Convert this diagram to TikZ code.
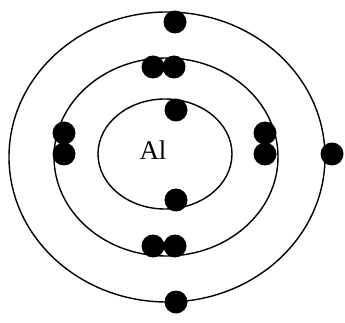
\documentclass[tikz,border=0pt]{standalone}
\usepackage{fontspec}
\setmainfont{Liberation Serif}
\usepackage{tikz}

\begin{document}
\begin{tikzpicture}[x=1pt,y=-1pt,
  orb/.style={draw,line width=1.4pt},
  ele/.style={circle,fill=black,inner sep=0pt,minimum size=23pt}]
  \useasboundingbox (0,0) rectangle (345,323);
  \draw[orb] (167,157) ellipse [x radius=158,y radius=145];
  \draw[orb] (166,157) ellipse [x radius=112,y radius=99];
  \draw[orb] (165,154) ellipse [x radius=67,y radius=55];
  \node[font=\fontsize{27}{30}\selectfont] (nuc) at (153,150) {Al};
  % capa interna
  \node[ele] (i1) at (176,110) {};
  \node[ele] (i2) at (176,200) {};
  % capa media
  \node[ele] (m1) at (153,67) {};
  \node[ele] (m2) at (174,67) {};
  \node[ele] (m3) at (153,246) {};
  \node[ele] (m4) at (175,246) {};
  \node[ele] (m5) at (64,133) {};
  \node[ele] (m6) at (64,154) {};
  \node[ele] (m7) at (265,133) {};
  \node[ele] (m8) at (265,154) {};
  % capa externa
  \node[ele] (o1) at (175,22) {};
  \node[ele] (o2) at (332,154) {};
  \node[ele] (o3) at (176,302) {};
\end{tikzpicture}
\end{document}
